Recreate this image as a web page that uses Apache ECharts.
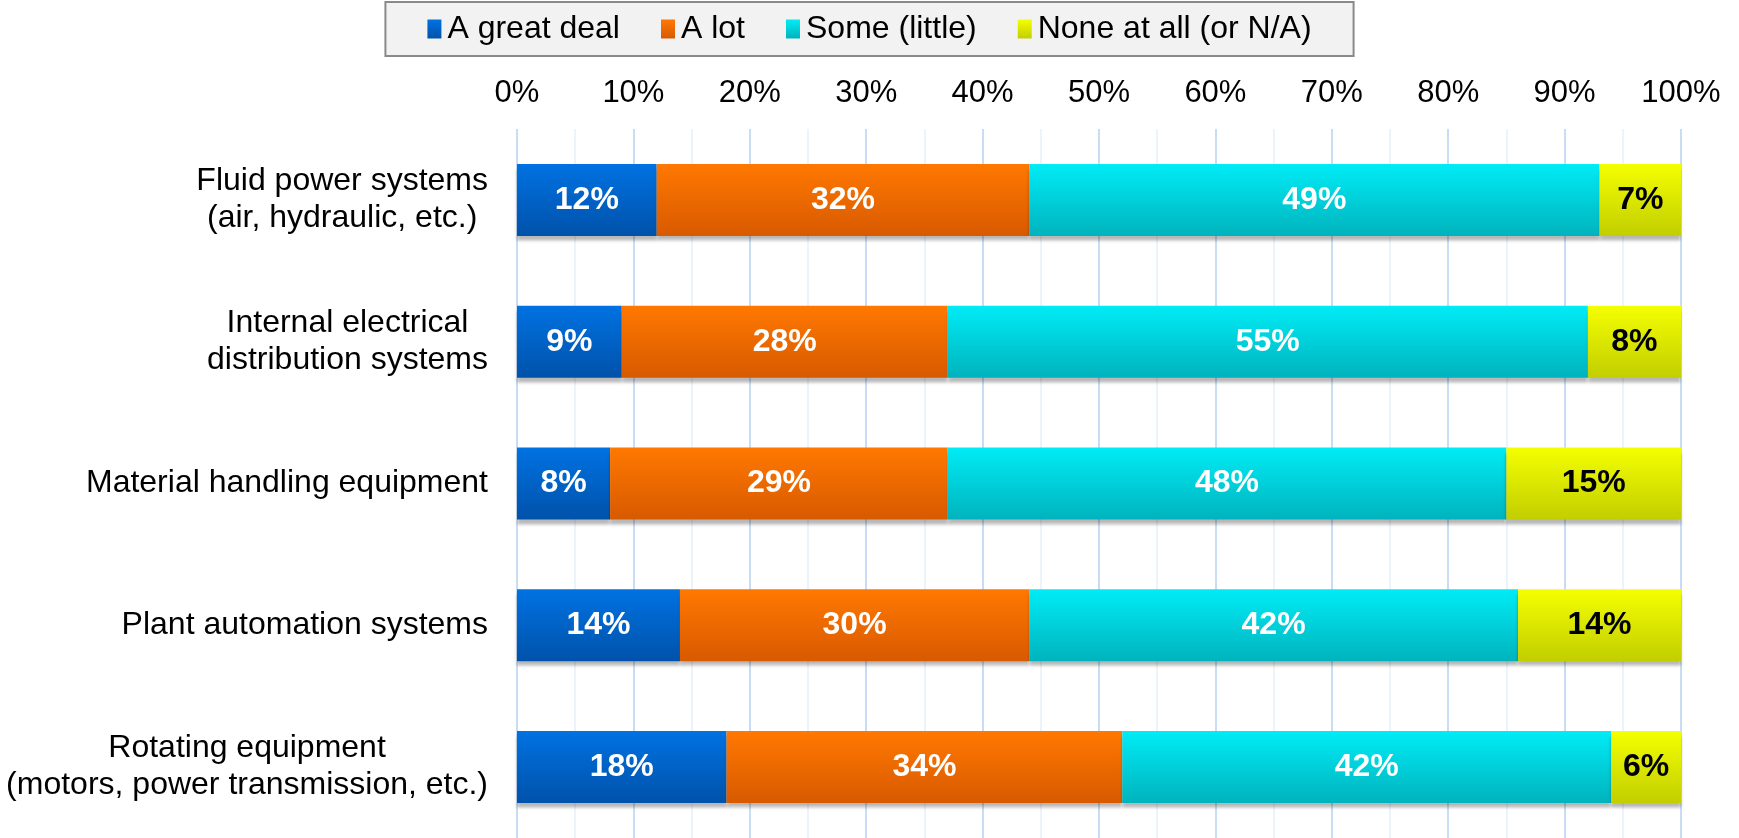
<!DOCTYPE html>
<html>
<head>
<meta charset="utf-8">
<script src="https://cdn.jsdelivr.net/npm/echarts@6/dist/echarts.min.js"></script>
<style>
  html, body { margin: 0; padding: 0; background: #fff; }
  #chart { width: 1739px; height: 838px; }
</style>
</head>
<body>
<div id="chart"></div>
<script>
// categories top to bottom
const categories = [
  "Fluid power systems\n(air, hydraulic, etc.)",
  "Internal electrical\ndistribution systems",
  "Material handling equipment",
  "Plant automation systems",
  "Rotating equipment\n(motors, power transmission, etc.)"
];
const seriesNames = ["A great deal", "A lot", "Some (little)", "None at all (or N/A)"];
const greatDeal = [12, 9, 8, 14, 18];
const aLot = [32, 28, 29, 30, 34];
const some = [49, 55, 48, 42, 42];
const noneAtAll = [7, 8, 15, 14, 6];
const xTicks = [0, 10, 20, 30, 40, 50, 60, 70, 80, 90, 100];

const FONT = "'Liberation Sans', Arial, sans-serif";

function grad(top, bottom) {
  return new echarts.graphic.LinearGradient(0, 0, 0, 1, [
    { offset: 0, color: top },
    { offset: 1, color: bottom },
  ]);
}

const palette = [
  ["#0072e2", "#0052aa"],
  ["#ff7800", "#d85a00"],
  ["#00ecf6", "#00b3bd"],
  ["#f4ff00", "#c2ce00"],
];
const labelColors = ["#fff", "#fff", "#fff", "#000"];
const values = [greatDeal, aLot, some, noneAtAll];

const chart = echarts.init(document.getElementById("chart"));

chart.setOption({
  animation: false,
  textStyle: { fontFamily: FONT },
  legend: {
    top: 2,
    left: "center",
    data: seriesNames,
    icon: "rect",
    itemWidth: 14,
    itemHeight: 19,
    itemGap: 41,
    padding: [11, 42],
    backgroundColor: "#f2f2f2",
    borderColor: "#8a8a8a",
    borderWidth: 2,
    textStyle: { color: "#000", fontSize: 32, fontFamily: FONT, padding: [0, 0, 0, 1] },
  },
  grid: {
    left: 517,
    right: 58,
    top: 129,
    height: 710,
    containLabel: false,
  },
  xAxis: {
    type: "value",
    position: "top",
    min: xTicks[0],
    max: xTicks[xTicks.length - 1],
    interval: 10,
    axisLine: { show: false },
    axisTick: { show: false },
    axisLabel: {
      formatter: "{value}%",
      color: "#000",
      fontSize: 31,
      fontFamily: FONT,
      margin: 20,
    },
    splitLine: { show: true, lineStyle: { color: "#c8ddf3", width: 2 } },
    minorTick: { show: false, splitNumber: 2 },
    minorSplitLine: { show: true, lineStyle: { color: "#ebf3fc", width: 2 } },
  },
  yAxis: {
    type: "category",
    inverse: true,
    data: categories,
    axisLine: { show: false },
    axisTick: { show: false },
    axisLabel: {
      margin: 29,
      align: "right",
      formatter: (v) => v.split("\n").map((l) => "{c|" + l + "}").join("\n"),
      rich: {
        c: {
          align: "center",
          color: "#000",
          fontSize: 32,
          lineHeight: 37,
          fontFamily: FONT,
        },
      },
    },
  },
  series: seriesNames.map((name, i) => ({
    name: name,
    type: "bar",
    stack: "total",
    barWidth: 72,
    data: values[i],
    itemStyle: {
      color: grad(palette[i][0], palette[i][1]),
      shadowColor: "rgba(0,0,0,0.28)",
      shadowOffsetY: 5,
      shadowBlur: 3,
    },
    label: {
      show: true,
      position: "inside",
      formatter: "{c}%",
      color: labelColors[i],
      fontSize: 32,
      fontWeight: "bold",
      fontFamily: FONT,
    },
  })),
});
</script>
</body>
</html>
